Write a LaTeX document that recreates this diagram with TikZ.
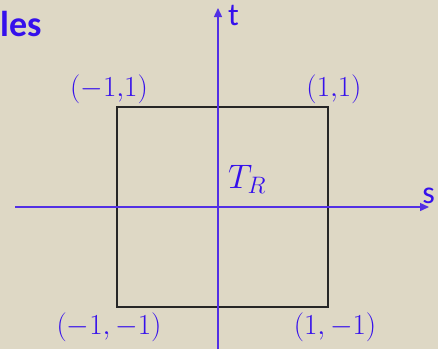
\RequirePackage{fix-cm}
\documentclass[tikz,border=0pt]{standalone}
\usepackage{fontspec}
\setsansfont{Carlito}
\usepackage{tikz}
\usetikzlibrary{arrows.meta,positioning}
\definecolor{paper}{HTML}{DED8C5}
\definecolor{ink}{HTML}{3510EC}
\definecolor{axis}{HTML}{5230E4}

\begin{document}
\begin{tikzpicture}[x=1pt, y=-1pt,
      coord/.style={text=ink, font=\fontsize{29}{31}\selectfont},
      axisline/.style={draw=axis, line width=1.4pt, -{Triangle[length=9pt, width=8pt]}},
      axislabel/.style={text=ink, font=\sffamily\fontsize{32}{34}\selectfont, inner sep=0pt}
    ]
    \fill[paper] (0,0) rectangle (438,349);
    \useasboundingbox (0,0) rectangle (438,349);
    % corners of the reference square
    \coordinate (A) at (117,307);
    \coordinate (B) at (328,307);
    \coordinate (C) at (328,107);
    \coordinate (D) at (117,107);
    \draw[black!85, line width=1.6pt] (A) -- (B) -- (C) -- (D) -- cycle;
    % axes s and t
    \coordinate (sL) at (15,207);
    \coordinate (sR) at (429,207);
    \coordinate (tB) at (218,349);
    \coordinate (tT) at (218,8);
    \draw[axisline] (sL) -- (sR);
    \draw[axisline] (tB) -- (tT);
    \node[axislabel, anchor=base west] (tlab) at (228,25) {t};
    \node[axislabel, anchor=base east] (slab) at (435,203) {s};
    % vertex labels
    \node[coord] (dlab) at (109,89) {$(-1{,}1)$};
    \node[coord] (clab) at (334,89) {$(1{,}1)$};
    \node[coord] (alab) at (109,327) {$(-1,-1)$};
    \node[coord] (blab) at (335,327) {$(1,-1)$};
    \node[coord, font=\fontsize{34}{36}\selectfont, anchor=south west, inner sep=0pt] (TR) at (228,194) {$T_R$};
    % title fragment
    \node[text=ink, font=\sffamily\bfseries\fontsize{36}{38}\selectfont, anchor=base west, inner sep=0pt] (title) at (0,36) {les};
  \end{tikzpicture}
\end{document}
